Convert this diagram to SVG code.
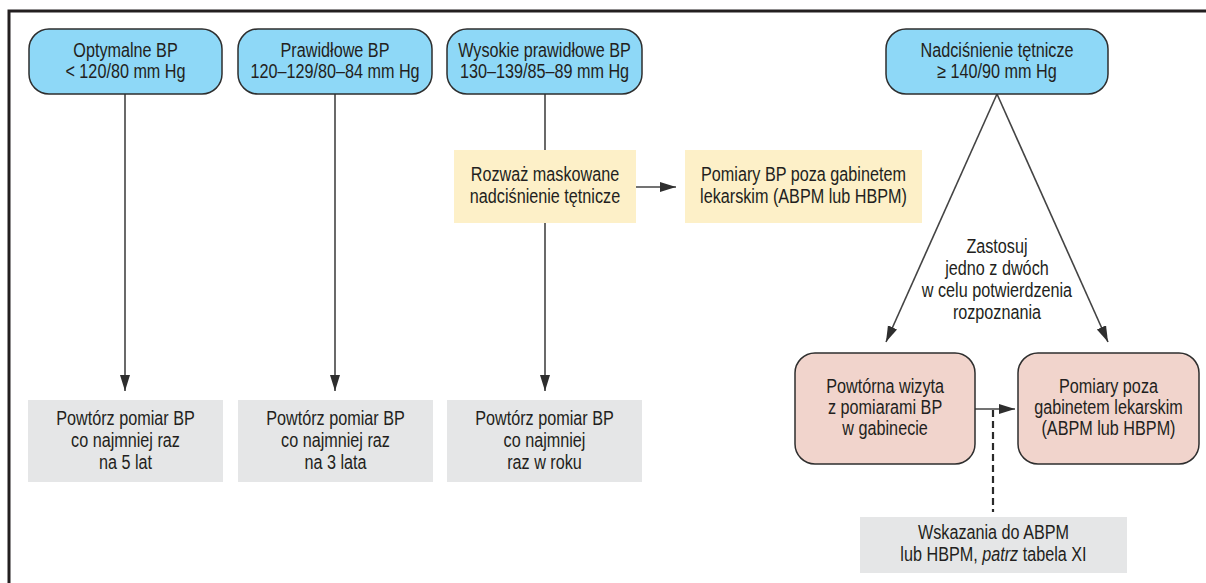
<svg xmlns="http://www.w3.org/2000/svg" width="1206" height="583" viewBox="0 0 1206 583">
<style>
text { font-family: "Liberation Sans", Arial, sans-serif; font-size: 20px; fill: #231f20; text-anchor: middle; transform-box: fill-box; transform-origin: center; transform: scaleX(0.81); }
.blue { fill: #8ed8f7; stroke: #2e2e2e; stroke-width: 1.5; }
.pink { fill: #f1d4cc; stroke: #2e2e2e; stroke-width: 1.5; }
.yellow { fill: #fdf0c8; }
.gray { fill: #e5e6e7; }
.conn { stroke: #444; stroke-width: 1.6; fill: none; }
.dash { stroke: #2a2a2a; stroke-width: 2.2; stroke-dasharray: 7 4; fill: none; }
.frame { stroke: #231f20; stroke-width: 3; fill: none; }
</style>
<defs>
<marker id="arr" markerUnits="userSpaceOnUse" markerWidth="17" markerHeight="11" refX="16" refY="5" orient="auto">
<path d="M0,0 L16,5 L0,10 z" fill="#2e2e2e"/>
</marker>
</defs>
<rect width="1206" height="583" fill="#ffffff"/>
<path class="frame" d="M9,583 L9,11 L1206,11"/>

<g id="connectors">
<line class="conn" x1="125" y1="94" x2="125" y2="391" marker-end="url(#arr)"/>
<line class="conn" x1="335" y1="94" x2="335" y2="391" marker-end="url(#arr)"/>
<line class="conn" x1="545" y1="94" x2="545" y2="150"/>
<line class="conn" x1="545" y1="223" x2="545" y2="391" marker-end="url(#arr)"/>
<line class="conn" x1="636" y1="187" x2="676" y2="187" marker-end="url(#arr)"/>
<line class="conn" x1="997" y1="94" x2="886" y2="342" marker-end="url(#arr)"/>
<line class="conn" x1="997" y1="94" x2="1108" y2="342" marker-end="url(#arr)"/>
<line class="conn" x1="975" y1="409" x2="1015" y2="409" marker-end="url(#arr)"/>
<line class="dash" x1="993" y1="410" x2="993" y2="512"/>
</g>

<g id="n-optymalne">
<rect class="blue" x="29" y="29" width="193" height="65" rx="20"/>
<text x="125.5" y="57">Optymalne BP<tspan x="125.5" dy="21">&lt; 120/80 mm Hg</tspan></text>
</g>
<g id="n-prawidlowe">
<rect class="blue" x="238" y="29" width="194" height="65" rx="20"/>
<text x="335" y="57">Prawidłowe BP<tspan x="335" dy="21">120–129/80–84 mm Hg</tspan></text>
</g>
<g id="n-wysokie">
<rect class="blue" x="447" y="29" width="195" height="65" rx="20"/>
<text x="544.5" y="57">Wysokie prawidłowe BP<tspan x="544.5" dy="21">130–139/85–89 mm Hg</tspan></text>
</g>
<g id="n-nadcisnienie">
<rect class="blue" x="886" y="29" width="222" height="65" rx="20"/>
<text x="997" y="57">Nadciśnienie tętnicze<tspan x="997" dy="21">≥ 140/90 mm Hg</tspan></text>
</g>

<g id="n-rozwaz">
<rect class="yellow" x="454" y="150" width="182" height="73"/>
<text x="545" y="181">Rozważ maskowane<tspan x="545" dy="22">nadciśnienie tętnicze</tspan></text>
</g>
<g id="n-pomiary-bp">
<rect class="yellow" x="685" y="150" width="237" height="73"/>
<text x="803.5" y="181">Pomiary BP poza gabinetem<tspan x="803.5" dy="22">lekarskim (ABPM lub HBPM)</tspan></text>
</g>

<g id="n-zastosuj">
<text x="997" y="253">Zastosuj<tspan x="997" dy="22">jedno z dwóch</tspan><tspan x="997" dy="22">w celu potwierdzenia</tspan><tspan x="997" dy="22">rozpoznania</tspan></text>
</g>

<g id="n-powtorna">
<rect class="pink" x="795" y="353" width="180" height="111" rx="20"/>
<text x="885" y="393">Powtórna wizyta<tspan x="885" dy="21">z pomiarami BP</tspan><tspan x="885" dy="21">w gabinecie</tspan></text>
</g>
<g id="n-pomiary-poza">
<rect class="pink" x="1018" y="353" width="181" height="111" rx="20"/>
<text x="1108.5" y="393">Pomiary poza<tspan x="1108.5" dy="21">gabinetem lekarskim</tspan><tspan x="1108.5" dy="21">(ABPM lub HBPM)</tspan></text>
</g>

<g id="n-powtorz-5">
<rect class="gray" x="28" y="400" width="195" height="82"/>
<text x="125.5" y="425">Powtórz pomiar BP<tspan x="125.5" dy="22">co najmniej raz</tspan><tspan x="125.5" dy="22">na 5 lat</tspan></text>
</g>
<g id="n-powtorz-3">
<rect class="gray" x="238" y="400" width="195" height="82"/>
<text x="335.5" y="425">Powtórz pomiar BP<tspan x="335.5" dy="22">co najmniej raz</tspan><tspan x="335.5" dy="22">na 3 lata</tspan></text>
</g>
<g id="n-powtorz-rok">
<rect class="gray" x="447" y="400" width="195" height="82"/>
<text x="544.5" y="425">Powtórz pomiar BP<tspan x="544.5" dy="22">co najmniej</tspan><tspan x="544.5" dy="22">raz w roku</tspan></text>
</g>

<g id="n-wskazania">
<rect class="gray" x="860" y="517" width="267" height="56"/>
<text x="993.5" y="539">Wskazania do ABPM<tspan x="993.5" dy="22">lub HBPM, <tspan font-style="italic">patrz</tspan> tabela XI</tspan></text>
</g>
</svg>
